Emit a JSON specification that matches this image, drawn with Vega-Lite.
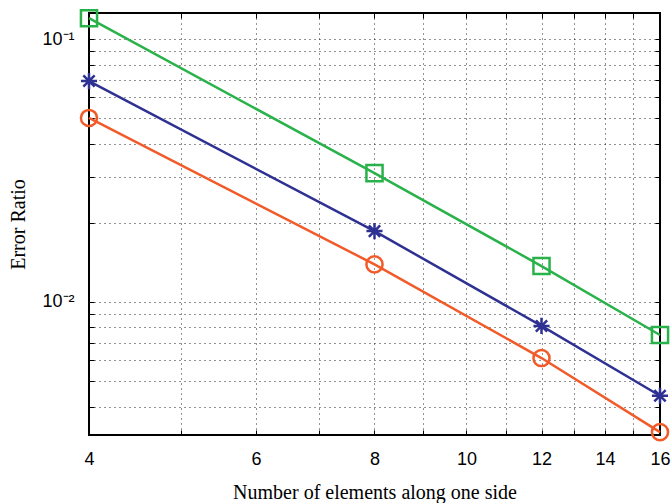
{
  "$schema": "https://vega.github.io/schema/vega-lite/v6.json",
  "width": 571,
  "height": 422,
  "autosize": {"type": "none"},
  "padding": {"left": 89, "top": 13, "right": 12, "bottom": 68},
  "background": "white",
  "config": {
    "view": {"stroke": "#000000", "strokeWidth": 2},
    "axis": {
      "domain": false,
      "labelFont": "Liberation Sans",
      "labelFontSize": 18,
      "labelColor": "#000000",
      "titleFont": "Liberation Serif",
      "titleFontSize": 20,
      "titleFontWeight": "normal",
      "titleColor": "#000000",
      "gridColor": "#000000",
      "gridDash": [1, 4],
      "gridWidth": 1,
      "gridOpacity": 0.85,
      "tickColor": "#000000",
      "tickSize": -5,
      "tickWidth": 1
    }
  },
  "data": {
    "values": [
      {"n": 4, "err": 0.120, "series": "A"},
      {"n": 8, "err": 0.0309, "series": "A"},
      {"n": 12, "err": 0.0137, "series": "A"},
      {"n": 16, "err": 0.00749, "series": "A"},
      {"n": 4, "err": 0.0692, "series": "B"},
      {"n": 8, "err": 0.0186, "series": "B"},
      {"n": 12, "err": 0.00811, "series": "B"},
      {"n": 16, "err": 0.00440, "series": "B"},
      {"n": 4, "err": 0.0501, "series": "C"},
      {"n": 8, "err": 0.0139, "series": "C"},
      {"n": 12, "err": 0.00612, "series": "C"},
      {"n": 16, "err": 0.00320, "series": "C"}
    ]
  },
  "encoding": {
    "x": {
      "field": "n",
      "type": "quantitative",
      "scale": {"type": "log", "domain": [4, 16], "nice": false}
    },
    "y": {
      "field": "err",
      "type": "quantitative",
      "scale": {"type": "log", "domain": [0.00312, 0.1256], "nice": false}
    },
    "color": {
      "field": "series",
      "type": "nominal",
      "scale": {"domain": ["A", "B", "C"], "range": ["#2ab24a", "#2e3192", "#f15a29"]},
      "legend": null
    }
  },
  "resolve": {"axis": {"x": "independent", "y": "independent"}},
  "layer": [
    {
      "mark": {"type": "line", "strokeWidth": 2.5},
      "encoding": {
        "x": {
          "field": "n",
          "type": "quantitative",
          "axis": {
            "title": "Number of elements along one side",
            "values": [4, 5, 6, 7, 8, 9, 10, 11, 12, 13, 14, 15, 16],
            "labelExpr": "indexof([4,6,8,10,12,14,16], datum.value) >= 0 ? datum.value : ''",
            "labelPadding": 20,
            "titleY": 47,
            "labelFlush": false
          }
        },
        "y": {
          "field": "err",
          "type": "quantitative",
          "axis": {
            "title": "Error Ratio",
            "values": [0.004, 0.005, 0.006, 0.007, 0.008, 0.009, 0.01, 0.02, 0.03, 0.04, 0.05, 0.06, 0.07, 0.08, 0.09, 0.1],
            "labelExpr": "datum.value == 0.1 ? '10⁻¹' : (datum.value == 0.01 ? '10⁻²' : '')",
            "labelPadding": 20,
            "titleX": -61,
            "labelFlush": false
          }
        }
      }
    },
    {
      "mark": {"type": "point", "filled": false, "strokeWidth": 2.5, "opacity": 1},
      "encoding": {
        "x": {
          "field": "n",
          "type": "quantitative",
          "axis": {
            "orient": "top",
            "values": [4, 5, 6, 7, 8, 9, 10, 11, 12, 13, 14, 15, 16],
            "labels": false,
            "grid": false,
            "title": null
          }
        },
        "y": {
          "field": "err",
          "type": "quantitative",
          "axis": {
            "orient": "right",
            "values": [0.004, 0.005, 0.006, 0.007, 0.008, 0.009, 0.01, 0.02, 0.03, 0.04, 0.05, 0.06, 0.07, 0.08, 0.09, 0.1],
            "labels": false,
            "grid": false,
            "title": null
          }
        },
        "shape": {
          "field": "series",
          "type": "nominal",
          "scale": {
            "domain": ["A", "B", "C"],
            "range": ["square", "M-1,0L1,0M0,-1L0,1M-0.7,-0.7L0.7,0.7M-0.7,0.7L0.7,-0.7", "circle"]
          },
          "legend": null
        },
        "size": {"value": 260}
      }
    }
  ]
}
